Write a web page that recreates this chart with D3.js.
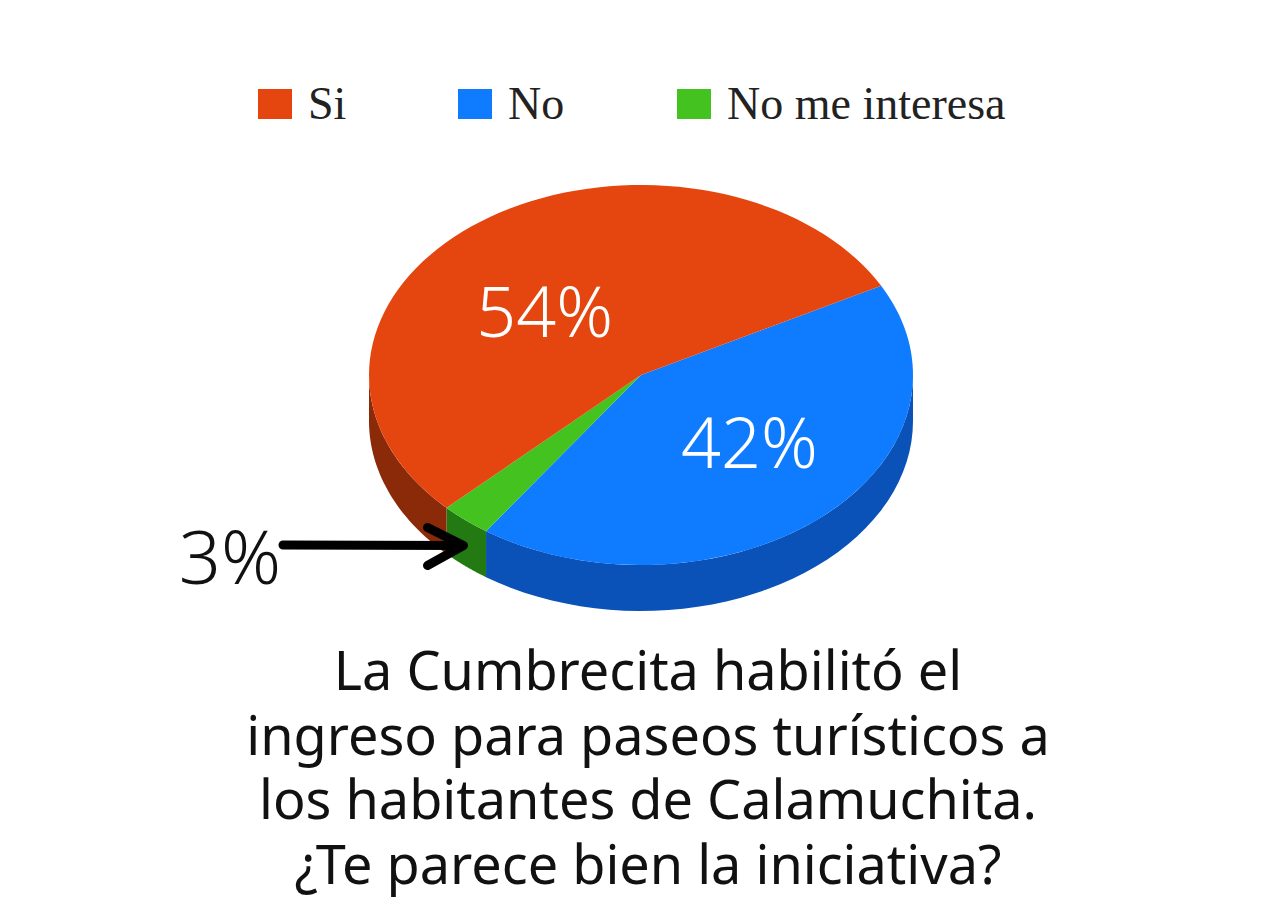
<!DOCTYPE html>
<html><head><meta charset="utf-8">
<script src="https://cdn.jsdelivr.net/npm/d3@7"></script>
<style>body{margin:0;background:#fff}</style>
</head><body>
<svg id="chart" width="1280" height="909"></svg>
<script>
// data
const categories = ["No", "No me interesa", "Si"]
const values = [42, 3, 54]
const labels = ["42%", "3%", "54%"]
const legendOrder = ["Si", "No", "No me interesa"]
const topColors = {"Si": "#e5450f", "No": "#0f7bff", "No me interesa": "#44c21f"}
const sideColors = {"Si": "#8a2a08", "No": "#0a52b8", "No me interesa": "#247a12"}
const titleLines = ["La Cumbrecita habilitó el", "ingreso para paseos turísticos a", "los habitantes de Calamuchita.", "¿Te parece bien la iniciativa?"]

const svg = d3.select("#chart")
const cx = 641, cy = 375, rx = 272, ry = 190, depth = 46
const deg = Math.PI / 180

const pt = (a, dy = 0) => [cx + rx * Math.sin(a), cy - ry * Math.cos(a) + dy]

const pie = d3.pie().sort(null).value(d => d.v)
    .startAngle(62 * deg).endAngle(422 * deg)
const arcs = pie(categories.map((c, i) => ({c, v: values[i], label: labels[i]})))

// side walls: front half only
function sidePath(a1, a2) {
    const p = d3.path()
    const n = 40
    const top = [], bot = []
    for (let i = 0; i <= n; i++) {
        const a = a1 + (a2 - a1) * i / n
        top.push(pt(a)); bot.push(pt(a, depth))
    }
    p.moveTo(...top[0])
    top.slice(1).forEach(q => p.lineTo(...q))
    bot.reverse().forEach(q => p.lineTo(...q))
    p.closePath()
    return p.toString()
}
const sides = svg.append("g")
arcs.forEach(d => {
    for (const off of [0, 2 * Math.PI]) {
        const lo = Math.max(d.startAngle, Math.PI / 2 + off)
        const hi = Math.min(d.endAngle, 3 * Math.PI / 2 + off)
        if (hi > lo) sides.append("path").attr("d", sidePath(lo, hi)).attr("fill", sideColors[d.data.c])
    }
})

// top face
const tops = svg.append("g")
arcs.forEach(d => {
    const p = d3.path()
    p.moveTo(cx, cy)
    const n = 80
    for (let i = 0; i <= n; i++) {
        const a = d.startAngle + (d.endAngle - d.startAngle) * i / n
        p.lineTo(...pt(a))
    }
    p.closePath()
    tops.append("path").attr("d", p.toString()).attr("fill", topColors[d.data.c])
})

// slice labels
const labelFont = "'Noto Sans', sans-serif"
const labelPos = {"Si": [0.6, 54], "No": [0.6, 8]}
arcs.forEach(d => {
    if (d.data.c === "No me interesa") return
    const mid = (d.startAngle + d.endAngle) / 2
    const [r, dy] = labelPos[d.data.c]
    const x = cx + rx * r * Math.sin(mid), y = cy - ry * r * Math.cos(mid)
    svg.append("text").attr("x", x).attr("y", y + dy).attr("text-anchor", "middle")
        .attr("font-family", labelFont).attr("font-weight", 300).attr("font-size", 70)
        .attr("fill", "#fff").text(d.data.label)
})

// 3% callout with arrow
const green = arcs.find(d => d.data.c === "No me interesa")
const gm = (green.startAngle + green.endAngle) / 2
const tip = pt(gm, depth * 0.55)
svg.append("text").attr("x", 230).attr("y", 584).attr("text-anchor", "middle")
    .attr("font-family", labelFont).attr("font-weight", 300).attr("font-size", 74)
    .attr("fill", "#111").text(green.data.label)
svg.append("path").attr("d", `M283,545 L${tip[0] - 4},${tip[1]}`)
    .attr("stroke", "#000").attr("stroke-width", 9).attr("stroke-linecap", "round").attr("fill", "none")
svg.append("path").attr("d", `M${tip[0] - 38},${tip[1] - 18} L${tip[0] - 2},${tip[1]} L${tip[0] - 38},${tip[1] + 20}`)
    .attr("stroke", "#000").attr("stroke-width", 9).attr("stroke-linecap", "round")
    .attr("stroke-linejoin", "round").attr("fill", "none")

// legend
const legendX = d3.scaleOrdinal().domain(legendOrder).range([258, 458, 677])
const lg = svg.append("g")
legendOrder.forEach(c => {
    lg.append("rect").attr("x", legendX(c)).attr("y", 89).attr("width", 34).attr("height", 30).attr("fill", topColors[c])
    lg.append("text").attr("x", legendX(c) + 50).attr("y", 119)
        .attr("font-family", "'Liberation Serif', serif").attr("font-size", 46).attr("fill", "#222").text(c)
})

// title
const ty = d3.scalePoint().domain(d3.range(titleLines.length)).range([690, 884])
titleLines.forEach((t, i) => {
    svg.append("text").attr("x", 648).attr("y", ty(i)).attr("text-anchor", "middle")
        .attr("font-family", "'Noto Sans', sans-serif").attr("font-size", 54).attr("fill", "#111").text(t)
})
</script>
</body></html>
